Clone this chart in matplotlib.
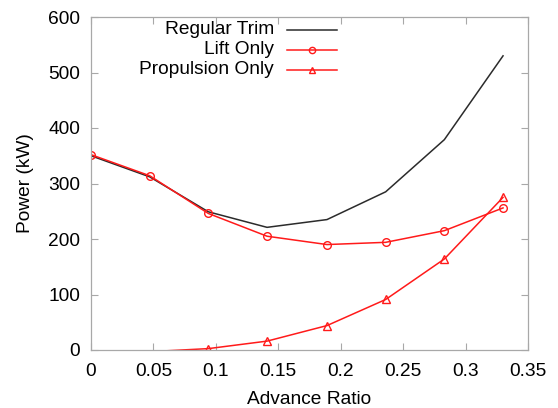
import numpy as np
import matplotlib
matplotlib.use("Agg")
import matplotlib.pyplot as plt
from matplotlib.lines import Line2D

plt.rcParams['font.family'] = ['Liberation Sans', 'DejaVu Sans']
plt.rcParams['font.size'] = 13.8

# data
mu = [0.0, 0.047, 0.094, 0.141, 0.189, 0.236, 0.283, 0.330]
regular_trim = [350, 312, 249, 221, 235, 285, 379, 530]
lift_only = [352, 314, 246, 205, 190, 194, 215, 256]
propulsion_only = [np.nan, -3, 2.5, 16, 44, 91, 164, 275]

series_names = ["Regular Trim", "Lift Only", "Propulsion Only"]
x_ticks = [0, 0.05, 0.1, 0.15, 0.2, 0.25, 0.3, 0.35]
x_ticklabels = ["0", "0.05", "0.1", "0.15", "0.2", "0.25", "0.3", "0.35"]
y_ticks = [0, 100, 200, 300, 400, 500, 600]

black = "#2b2b2b"
red = "#ff1a1a"
grey = "#a8a8a8"

fig = plt.figure(figsize=(5.58, 4.08), dpi=100)
ax = fig.add_axes([91/558, 58/408, 437/558, 333/408])

ax.plot(mu, regular_trim, color=black, lw=1.1)
ax.plot(mu, lift_only, color=red, lw=1.1, marker="o", ms=5.5,
        mfc="none", mew=1.0)
# markers below zero are not shown, only the clipped line
p_idx = [i for i, v in enumerate(propulsion_only) if v >= 0]
ax.plot(mu, propulsion_only, color=red, lw=1.1, marker="^", ms=5.5,
        mfc="none", mew=1.0, markevery=p_idx)

ax.set_xlim(0, 0.35)
ax.set_ylim(0, 600)
ax.set_xticks(x_ticks)
ax.set_xticklabels(x_ticklabels)
ax.set_yticks(y_ticks)
ax.tick_params(direction="in", length=5, width=0.8, color=grey,
               top=True, right=True)
ax.tick_params(axis="x", pad=9.5)
ax.tick_params(axis="y", pad=8)
for s in ax.spines.values():
    s.set_color(grey)
    s.set_linewidth(0.9)

ax.set_xlabel("Advance Ratio")
ax.set_ylabel("Power (kW)")
ax.xaxis.set_label_coords(0.5, -0.122)
ax.yaxis.set_label_coords(-0.13, 0.5)

# gnuplot style key: text right aligned, sample on the right
key_y = [0.961, 0.901, 0.842]
styles = [dict(color=black, marker=None),
          dict(color=red, marker="o"),
          dict(color=red, marker="^")]
for name, ky, st in zip(series_names, key_y, styles):
    ax.text(0.419, ky, name, transform=ax.transAxes, ha="right", va="center")
    ln = Line2D([0.448, 0.506, 0.562], [ky, ky, ky], transform=ax.transAxes,
                color=st["color"], lw=1.1, marker=st["marker"], ms=4.5,
                mfc="none", mew=1.0, markevery=[1])
    ax.add_line(ln)

fig.savefig("out.png", dpi=100)
